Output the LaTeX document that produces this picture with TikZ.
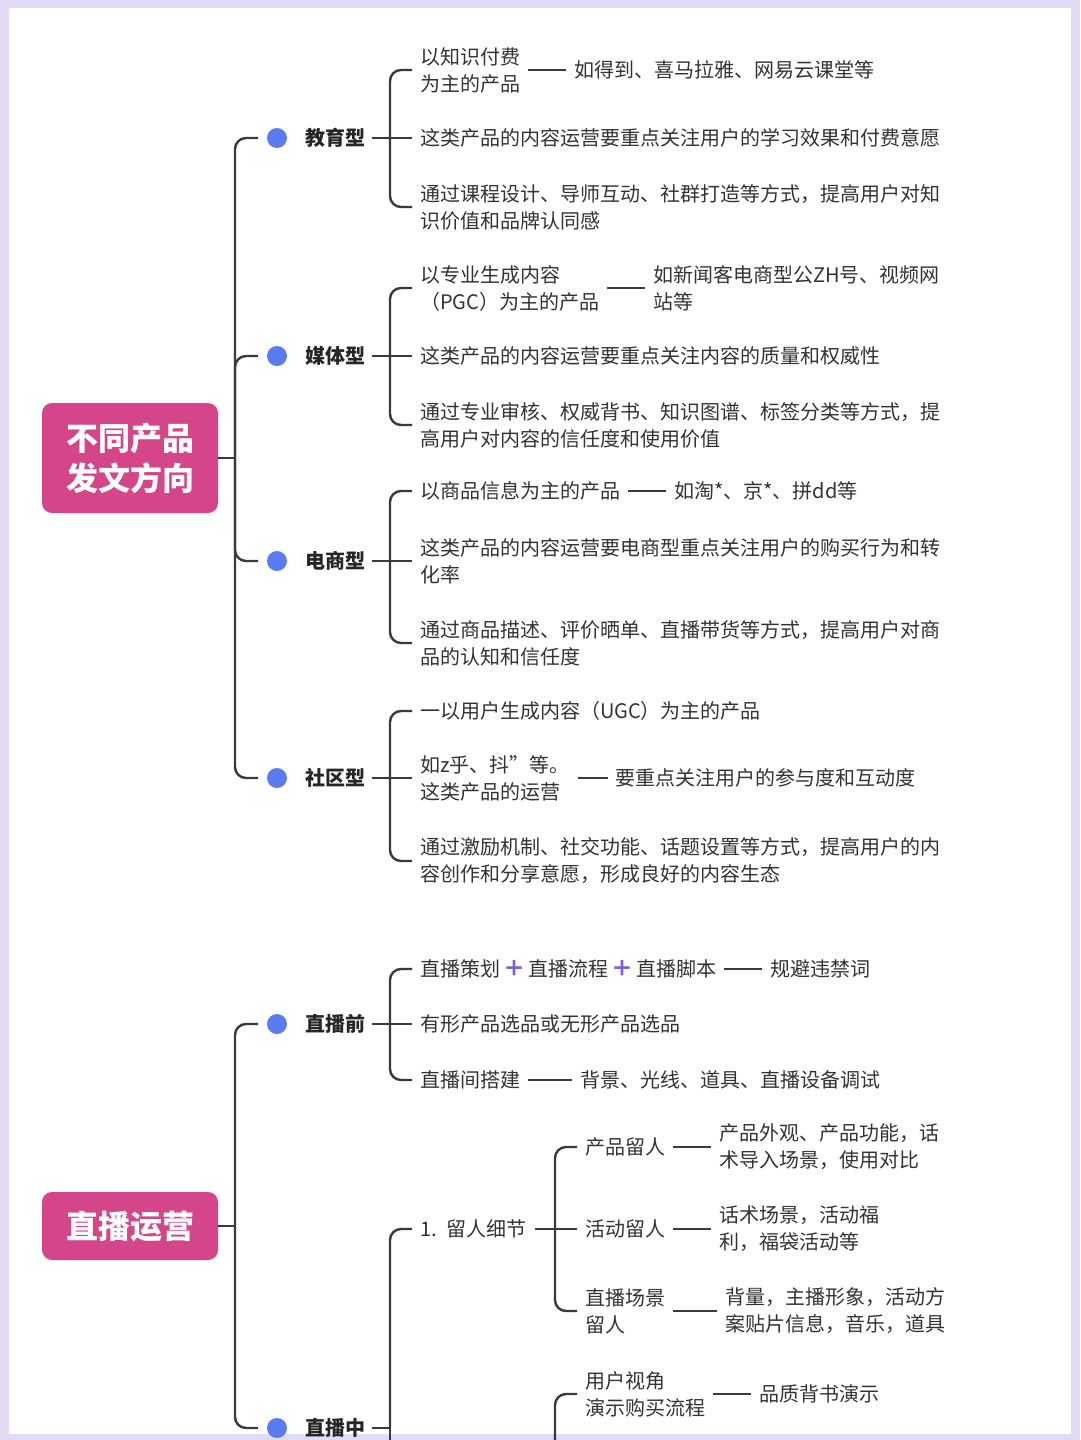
\documentclass[tikz,border=0pt]{standalone}
\usepackage{fontspec}
\setmainfont{Noto Sans CJK SC}
\usetikzlibrary{positioning}
\definecolor{MapInk}{HTML}{333333}
\definecolor{MapLine}{HTML}{3A3A3A}
\definecolor{MapRose}{HTML}{D4458A}
\definecolor{MapDot}{HTML}{5A7CF0}
\definecolor{MapPlus}{HTML}{7B5CD6}
\definecolor{MapFrame}{HTML}{E3DAF7}
\newcommand{\leaffont}{\fontsize{20}{27}\selectfont}
\newcommand{\plusmark}{\hspace{3pt}{\color{MapPlus}\fontsize{22}{27}\selectfont\bfseries ＋}\hspace{3pt}}
\tikzset{
  every node/.style={font=\leaffont, text=MapInk, inner sep=0pt},
  rootbox/.style={fill=MapRose, rounded corners=10pt, text=white, align=center, minimum width=176pt, font=\fontsize{32}{40}\selectfont\bfseries},
  topic/.style={anchor=west, outer xsep=7pt, font=\leaffont\bfseries, text=black!85},
  bullet/.style={circle, fill=MapDot, minimum size=20pt, outer sep=9pt},
  leaf/.style={anchor=west, align=left, outer xsep=8pt},
  detail/.style={leaf, right=38pt of #1},
  link/.style={draw=MapLine, line width=2.4pt, rounded corners=11pt},
  bond/.style={draw=MapLine, line width=2.8pt},
}
\begin{document}
\begin{tikzpicture}[x=1pt,y=-1pt]
  % Page: pixel grid 1080 x 1440, y downwards
  \useasboundingbox (0,0) rectangle (1080,1440);
  \fill[MapFrame] (0,0) rectangle (1080,1440);
  \fill[white] (9,8) rectangle (1071,1434);

  % Map 1: product types
  \node[rootbox, minimum height=110pt] (prod) at (130,458) {不同产品\\发文方向};
  \coordinate (prod-trunk) at (235,458);
  \foreach \name/\y/\txt in {edu/138/教育型, media/356/媒体型, shop/561/电商型, comm/778/社区型}{
    \node[bullet] (\name-dot) at (277,\y) {};
    \node[topic] (\name) at (298,\y) {\txt};
    \coordinate (\name-hub) at (390,\y);
  }
  \node[leaf] (edu1) at (412,70) {以知识付费\\为主的产品};
  \node[detail=edu1] (edu1x) {如得到、喜马拉雅、网易云课堂等};
  \node[leaf] (edu2) at (412,138) {这类产品的内容运营要重点关注用户的学习效果和付费意愿};
  \node[leaf] (edu3) at (412,207) {通过课程设计、导师互动、社群打造等方式，提高用户对知\\识价值和品牌认同感};
  \node[leaf] (media1) at (412,288) {以专业生成内容\\（PGC）为主的产品};
  \node[detail=media1] (media1x) {如新闻客电商型公ZH号、视频网\\站等};
  \node[leaf] (media2) at (412,356) {这类产品的内容运营要重点关注内容的质量和权威性};
  \node[leaf] (media3) at (412,425) {通过专业审核、权威背书、知识图谱、标签分类等方式，提\\高用户对内容的信任度和使用价值};
  \node[leaf] (shop1) at (412,491) {以商品信息为主的产品};
  \node[detail=shop1] (shop1x) {如淘*、京*、拼dd等};
  \node[leaf] (shop2) at (412,561) {这类产品的内容运营要电商型重点关注用户的购买行为和转\\化率};
  \node[leaf] (shop3) at (412,643) {通过商品描述、评价晒单、直播带货等方式，提高用户对商\\品的认知和信任度};
  \node[leaf] (comm1) at (412,711) {一以用户生成内容（UGC）为主的产品};
  \node[leaf] (comm2) at (412,778) {如z乎、抖"等。\\这类产品的运营};
  \node[leaf, right=30pt of comm2] (comm2x) {要重点关注用户的参与度和互动度};
  \node[leaf] (comm3) at (412,861) {通过激励机制、社交功能、话题设置等方式，提高用户的内\\容创作和分享意愿，形成良好的内容生态};

  \draw[link] (prod.east) -- (prod-trunk);
  \foreach \name in {edu,media,shop,comm}{
    \draw[link] (prod-trunk) |- (\name-dot.west);
    \draw[link] (\name.east) -- (\name-hub);
    \draw[link] (\name-hub) |- (\name1.west);
    \draw[link] (\name-hub) -- (\name2.west);
    \draw[link] (\name-hub) |- (\name3.west);
  }
  \foreach \a/\b in {edu1/edu1x, media1/media1x, shop1/shop1x, comm2/comm2x}
    \draw[bond] (\a.east) -- (\b.west);

  % Map 2: live streaming
  \node[rootbox, minimum height=68pt] (live) at (130,1226) {直播运营};
  \coordinate (live-trunk) at (235,1226);
  \foreach \name/\y/\txt in {pre/1024/直播前, mid/1428/直播中}{
    \node[bullet] (\name-dot) at (277,\y) {};
    \node[topic] (\name) at (298,\y) {\txt};
    \coordinate (\name-hub) at (390,\y);
  }
  \node[leaf] (pre1) at (412,969) {直播策划\plusmark 直播流程\plusmark 直播脚本};
  \node[detail=pre1] (pre1x) {规避违禁词};
  \node[leaf] (pre2) at (412,1024) {有形产品选品或无形产品选品};
  \node[leaf] (pre3) at (412,1080) {直播间搭建};
  \node[leaf, right=44pt of pre3] (pre3x) {背景、光线、道具、直播设备调试};
  \node[leaf] (mid1) at (412,1229) {1.\enspace 留人细节};
  \coordinate (mid1-hub) at (555,1229);
  \node[leaf] (mid11) at (577,1147) {产品留人};
  \node[detail=mid11] (mid11x) {产品外观、产品功能，话\\术导入场景，使用对比};
  \node[leaf] (mid12) at (577,1229) {活动留人};
  \node[detail=mid12] (mid12x) {话术场景，活动福\\利，福袋活动等};
  \node[leaf] (mid13) at (577,1311) {直播场景\\留人};
  \node[leaf, right=44pt of mid13] (mid13x) {背量，主播形象，活动方\\案贴片信息，音乐，道具};
  \node[leaf] (mid21) at (577,1394) {用户视角\\演示购买流程};
  \node[detail=mid21] (mid21x) {品质背书演示};
  \coordinate (mid-tail) at (390,1446);
  \coordinate (mid2-tail) at (555,1446);

  \draw[link] (live.east) -- (live-trunk);
  \foreach \name in {pre,mid}{
    \draw[link] (live-trunk) |- (\name-dot.west);
    \draw[link] (\name.east) -- (\name-hub);
  }
  \draw[link] (pre-hub) |- (pre1.west);
  \draw[link] (pre-hub) -- (pre2.west);
  \draw[link] (pre-hub) |- (pre3.west);
  \draw[link] (mid-hub) |- (mid1.west);
  \draw[link] (mid-hub) -- (mid-tail);
  \draw[link] (mid1.east) -- (mid1-hub);
  \draw[link] (mid1-hub) |- (mid11.west);
  \draw[link] (mid1-hub) -- (mid12.west);
  \draw[link] (mid1-hub) |- (mid13.west);
  \draw[link] (mid2-tail) |- (mid21.west);
  \foreach \a/\b in {pre1/pre1x, pre3/pre3x, mid11/mid11x, mid12/mid12x, mid13/mid13x, mid21/mid21x}
    \draw[bond] (\a.east) -- (\b.west);
\end{tikzpicture}
\end{document}
